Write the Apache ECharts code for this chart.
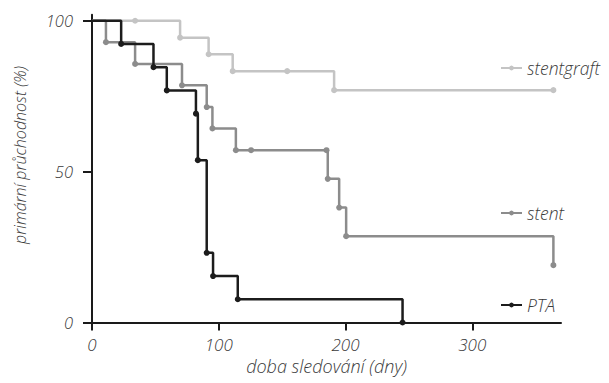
<!DOCTYPE html>
<html>
<head>
<meta charset="utf-8">
<script src="https://cdn.jsdelivr.net/npm/echarts@6/dist/echarts.min.js"></script>
<style>html,body{margin:0;padding:0;background:#fff;}#c{width:609px;height:383px;}</style>
</head>
<body>
<div id="c"></div>
<script>
// ---- data ----
const xTicks = [0, 100, 200, 300];
const yTicks = [0, 50, 100];
const seriesNames = ['stentgraft', 'stent', 'PTA'];
const stentgraftDays = [0, 34, 69.5, 92, 111, 154, 191, 364];
const stentgraftVals = [100, 100, 94.4, 88.9, 83.3, 83.3, 77.0, 77.0];
const stentDays = [0, 11, 34, 71, 90.5, 95, 113.5, 125.5, 185, 186, 195, 200.5, 364];
const stentVals = [100, 92.9, 85.7, 78.6, 71.4, 64.3, 57.1, 57.1, 57.1, 47.6, 38.1, 28.6, 19.0];
const ptaDays = [0, 23, 48.5, 59, 82, 83.5, 90.5, 95.5, 115, 245];
const ptaVals = [100, 92.3, 84.6, 76.9, 69.2, 53.8, 23.1, 15.4, 7.7, 0];
const xTitle = 'doba sledování (dny)';
const yTitle = 'primární průchodnost (%)';

const colors = ['#c4c4c4', '#8c8c8c', '#1c1c1c'];
const font = '"Open Sans", "DejaVu Sans", sans-serif';
const textColor = '#3a3a3a';

function toData(days, vals) {
  return days.map((d, i) => i === 0 ? { value: [d, vals[i]], symbolSize: 0 } : [d, vals[i]]);
}
const allDays = [stentgraftDays, stentDays, ptaDays];
const allVals = [stentgraftVals, stentVals, ptaVals];

const legendTops = [59, 204, 296];

const chart = echarts.init(document.getElementById('c'), null, { renderer: 'svg' });
chart.setOption({
  animation: false,
  grid: { left: 92, right: 48, top: 14.7, bottom: 60.5, containLabel: false },
  xAxis: {
    type: 'value', min: 0, max: 370,
    name: xTitle, nameLocation: 'middle', nameGap: 33,
    nameTextStyle: { fontFamily: font, fontStyle: 'italic', fontWeight: 300, fontSize: 18, color: textColor },
    axisLine: { show: true, lineStyle: { color: '#1a1a1a', width: 2 } },
    axisTick: { show: true, length: 8, customValues: xTicks, lineStyle: { color: '#1a1a1a', width: 2 } },
    axisLabel: { customValues: xTicks, margin: 13, fontFamily: font, fontStyle: 'italic', fontWeight: 300, fontSize: 17, color: textColor },
    splitLine: { show: false }
  },
  yAxis: {
    type: 'value', min: 0, max: 102,
    axisLine: { show: true, lineStyle: { color: '#1a1a1a', width: 2 } },
    axisTick: { show: true, length: 9, customValues: yTicks, lineStyle: { color: '#1a1a1a', width: 2 } },
    axisLabel: { customValues: yTicks, margin: 19, fontFamily: font, fontStyle: 'italic', fontWeight: 300, fontSize: 16.5, color: textColor },
    splitLine: { show: false }
  },
  legend: seriesNames.map((n, i) => ({
    data: [n], left: 500, top: legendTops[i], orient: 'vertical',
    itemWidth: 21, itemHeight: 6, itemGap: 6, padding: 0,
    textStyle: { fontFamily: font, fontStyle: 'italic', fontWeight: 300, fontSize: 17.5, color: textColor },
    selectedMode: false
  })),
  graphic: [{
    type: 'text', x: 20, y: 155, rotation: Math.PI / 2,
    style: { text: yTitle, align: 'center', verticalAlign: 'middle',
      font: 'italic 300 16px ' + font, fill: textColor }
  }],
  series: seriesNames.map((n, i) => ({
    name: n, type: 'line', step: 'end',
    data: toData(allDays[i], allVals[i]),
    symbol: 'circle', symbolSize: 6, showAllSymbol: true,
    lineStyle: { color: colors[i], width: 2.5 },
    itemStyle: { color: colors[i] },
    z: 2 + i
  }))
});
</script>
</body>
</html>
